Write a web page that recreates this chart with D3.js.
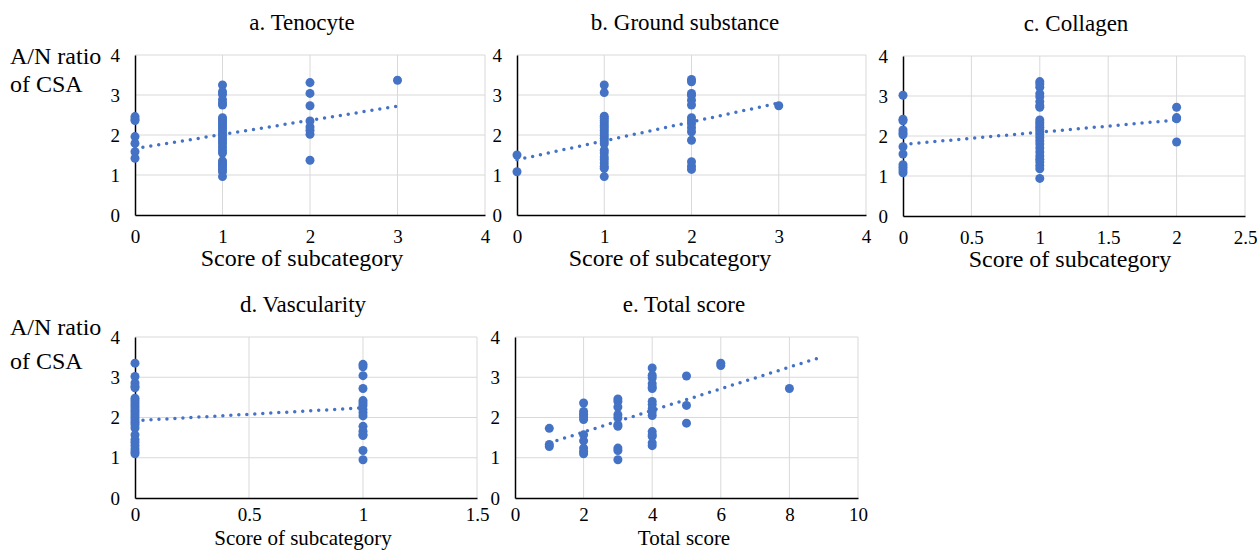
<!DOCTYPE html>
<html>
<head>
<meta charset="utf-8">
<script src="https://cdn.jsdelivr.net/npm/d3@7"></script>
<style>
body { margin: 0; background: #fff; }
text { font-family: "Liberation Serif", "Times New Roman", serif; fill: #000; }
</style>
</head>
<body>
<svg width="1257" height="550"></svg>
<script>
// A/N ratio of CSA grouped by score
var yTicks = [0, 1, 2, 3, 4];

var tenocyteScores = [0, 1, 2, 3];
var tenocyteRatios = [
  [2.46, 2.40, 2.36, 1.96, 1.79, 1.58, 1.42],
  [3.25, 3.08, 3.02, 2.88, 2.80, 2.75, 2.43, 2.38, 2.33, 2.28, 2.22, 2.16, 2.10, 2.04, 1.98, 1.92, 1.85, 1.78, 1.70, 1.62, 1.55, 1.35, 1.30, 1.25, 1.20, 1.14, 1.08, 0.96],
  [3.31, 3.04, 2.73, 2.35, 2.20, 2.12, 2.02, 1.37],
  [3.37]
];
var tenocyteTrend = [[0, 1.66], [3, 2.72]];

var groundScores = [0, 1, 2, 3];
var groundRatios = [
  [1.50, 1.08],
  [3.25, 3.06, 2.47, 2.42, 2.36, 2.30, 2.24, 2.18, 2.12, 2.05, 1.98, 1.92, 1.85, 1.78, 1.62, 1.55, 1.45, 1.38, 1.30, 1.22, 1.17, 0.96],
  [3.39, 3.33, 3.04, 2.99, 2.87, 2.75, 2.43, 2.36, 2.28, 2.18, 2.08, 1.87, 1.33, 1.22, 1.14],
  [2.73]
];
var groundTrend = [[0, 1.38], [3, 2.80]];

var collagenScores = [0, 1, 2];
var collagenRatios = [
  [3.02, 2.42, 2.38, 2.15, 2.08, 2.03, 1.73, 1.55, 1.28, 1.22, 1.15, 1.08],
  [3.36, 3.30, 3.22, 3.06, 2.98, 2.86, 2.76, 2.72, 2.40, 2.34, 2.28, 2.22, 2.16, 2.10, 2.04, 1.96, 1.88, 1.80, 1.70, 1.60, 1.50, 1.42, 1.35, 1.26, 1.18, 0.94],
  [2.72, 2.46, 2.43, 1.85]
];
var collagenTrend = [[0, 1.79], [2, 2.40]];

var vascScores = [0, 1];
var vascRatios = [
  [3.35, 3.02, 2.86, 2.78, 2.74, 2.48, 2.42, 2.36, 2.30, 2.24, 2.18, 2.12, 2.06, 2.00, 1.94, 1.88, 1.82, 1.74, 1.57, 1.45, 1.38, 1.30, 1.22, 1.15, 1.10],
  [3.32, 3.26, 3.04, 2.72, 2.42, 2.36, 2.30, 2.20, 2.12, 2.04, 1.78, 1.66, 1.58, 1.55, 1.18, 0.95]
];
var vascTrend = [[0, 1.92], [1, 2.24]];

var totalScores = [1, 2, 3, 4, 5, 6, 8];
var totalRatios = [
  [1.73, 1.33, 1.28],
  [2.36, 2.15, 2.08, 2.02, 1.95, 1.57, 1.42, 1.24, 1.16, 1.10],
  [2.46, 2.40, 2.26, 2.07, 1.99, 1.82, 1.78, 1.24, 1.18, 0.95],
  [3.23, 3.05, 2.98, 2.84, 2.76, 2.72, 2.40, 2.32, 2.22, 2.14, 2.05, 1.65, 1.57, 1.53, 1.37, 1.30],
  [3.03, 2.30, 1.86],
  [3.35, 3.29],
  [2.72]
];
var totalTrend = [[1, 1.37], [9, 3.52]];

var blue = "#4472C4";
var svg = d3.select("svg");

function flatten(scores, ratios) {
  var pts = [];
  scores.forEach(function(s, i) {
    ratios[i].forEach(function(r) { pts.push([s, r]); });
  });
  return pts;
}

function drawPanel(p) {
  var x = d3.scaleLinear().domain([0, p.xmax]).range([p.left, p.right]);
  var y = d3.scaleLinear().domain([0, 4]).range([p.bottom, p.top]);
  var g = svg.append("g");

  g.selectAll(".hgrid").data(yTicks.filter(function(v) { return v > 0; }))
    .enter().append("line")
    .attr("x1", p.left).attr("x2", p.right)
    .attr("y1", function(d) { return y(d); }).attr("y2", function(d) { return y(d); })
    .attr("stroke", "#d9d9d9").attr("stroke-width", 1);
  g.selectAll(".vgrid").data(p.xticks.filter(function(v) { return v > 0; }))
    .enter().append("line")
    .attr("y1", p.top).attr("y2", p.bottom)
    .attr("x1", function(d) { return x(d); }).attr("x2", function(d) { return x(d); })
    .attr("stroke", "#d9d9d9").attr("stroke-width", 1);

  var ax = g.append("g")
    .attr("transform", "translate(0," + p.bottom + ")")
    .call(d3.axisBottom(x).tickValues(p.xticks).tickFormat(d3.format("~g")).tickSize(0).tickPadding(p.pad));
  var ay = g.append("g")
    .attr("transform", "translate(" + p.left + ",0)")
    .call(d3.axisLeft(y).tickValues(yTicks).tickFormat(d3.format("d")).tickSize(0).tickPadding(15));
  [ax, ay].forEach(function(a) {
    a.select(".domain").attr("stroke", "#000").attr("stroke-width", 1.5);
    a.selectAll("text").attr("font-size", 19).attr("font-family", "Liberation Serif");
  });

  g.append("line")
    .attr("x1", x(p.trend[0][0])).attr("y1", y(p.trend[0][1]))
    .attr("x2", x(p.trend[1][0])).attr("y2", y(p.trend[1][1]))
    .attr("stroke", blue).attr("stroke-width", 3.5)
    .attr("stroke-linecap", "round").attr("stroke-dasharray", "0 8");

  g.selectAll("circle").data(p.points).enter().append("circle")
    .attr("cx", function(d) { return x(d[0]); })
    .attr("cy", function(d) { return y(d[1]); })
    .attr("r", 4.5)
    .attr("fill", blue);

  g.append("text").attr("x", p.titleX).attr("y", p.top - 25)
    .attr("text-anchor", "middle").attr("font-size", 23).text(p.title);
  g.append("text").attr("x", p.xlabX).attr("y", p.labY)
    .attr("text-anchor", "middle").attr("font-size", p.labSize).text(p.xlab);
}

var panels = [
  { title: "a. Tenocyte", titleX: 302, xlab: "Score of subcategory", xlabX: 302,
    left: 135, right: 485, top: 55, bottom: 215, xmax: 4, xticks: [0, 1, 2, 3, 4],
    pad: 15, labY: 266, labSize: 24,
    points: flatten(tenocyteScores, tenocyteRatios), trend: tenocyteTrend },
  { title: "b. Ground substance", titleX: 685, xlab: "Score of subcategory", xlabX: 670,
    left: 517, right: 866, top: 55, bottom: 215, xmax: 4, xticks: [0, 1, 2, 3, 4],
    pad: 15, labY: 266, labSize: 24,
    points: flatten(groundScores, groundRatios), trend: groundTrend },
  { title: "c. Collagen", titleX: 1076, xlab: "Score of subcategory", xlabX: 1070,
    left: 903, right: 1245, top: 56, bottom: 216, xmax: 2.5, xticks: [0, 0.5, 1, 1.5, 2, 2.5],
    pad: 15, labY: 267, labSize: 24,
    points: flatten(collagenScores, collagenRatios), trend: collagenTrend },
  { title: "d. Vascularity", titleX: 303, xlab: "Score of subcategory", xlabX: 303,
    left: 135, right: 477, top: 337, bottom: 498, xmax: 1.5, xticks: [0, 0.5, 1, 1.5],
    pad: 10, labY: 545, labSize: 21,
    points: flatten(vascScores, vascRatios), trend: vascTrend },
  { title: "e. Total score", titleX: 684, xlab: "Total score", xlabX: 684,
    left: 515, right: 858, top: 337, bottom: 498, xmax: 10, xticks: [0, 2, 4, 6, 8, 10],
    pad: 10, labY: 545, labSize: 21,
    points: flatten(totalScores, totalRatios), trend: totalTrend }
];

panels.forEach(drawPanel);

// shared y label for each row
[[64, 92], [335, 369]].forEach(function(ys) {
  svg.append("text").attr("x", 10).attr("y", ys[0]).attr("font-size", 24).text("A/N ratio");
  svg.append("text").attr("x", 10).attr("y", ys[1]).attr("font-size", 24).text("of CSA");
});
</script>
</body>
</html>
